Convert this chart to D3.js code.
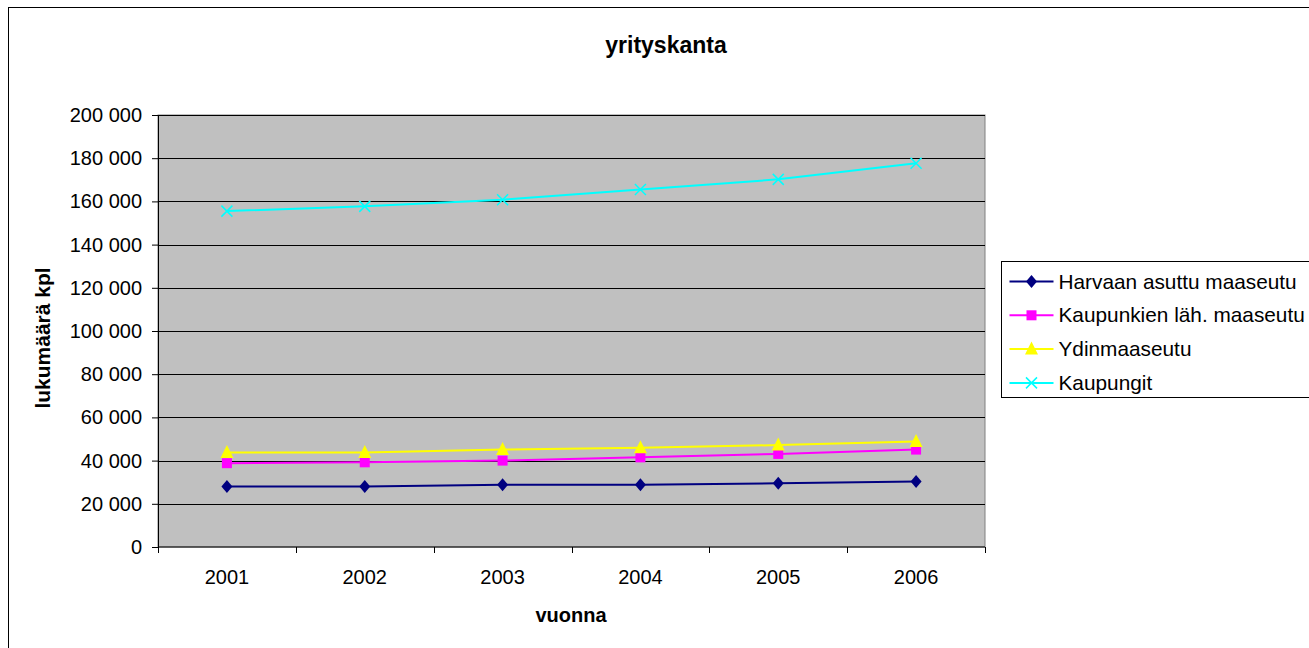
<!DOCTYPE html>
<html>
<head>
<meta charset="utf-8">
<script src="https://cdn.jsdelivr.net/npm/d3@7"></script>
<style>
  body { margin: 0; background: #fff; overflow: hidden; }
  svg { display: block; font-family: "Liberation Sans", Arial, sans-serif; }
</style>
</head>
<body>
<div id="chart"></div>
<script>
/*global d3*/

var years = ["2001", "2002", "2003", "2004", "2005", "2006"];
var harvaan = [28000, 28000, 28800, 28800, 29500, 30300];
var kaupunkienLah = [38800, 39200, 40000, 41500, 43100, 45100];
var ydinmaaseutu = [43700, 43700, 45100, 45900, 47200, 48900];
var kaupungit = [155500, 157700, 160800, 165500, 170200, 177700];
var yTicks = [0, 20000, 40000, 60000, 80000, 100000, 120000, 140000, 160000, 180000, 200000];

var series = [
  {name: "Harvaan asuttu maaseutu", values: harvaan, color: "#000080", marker: "diamond"},
  {name: "Kaupunkien läh. maaseutu", values: kaupunkienLah, color: "#ff00ff", marker: "square"},
  {name: "Ydinmaaseutu", values: ydinmaaseutu, color: "#ffff00", marker: "triangle"},
  {name: "Kaupungit", values: kaupungit, color: "#00ffff", marker: "x"}
];

var width = 1309, height = 648;
var plot = {left: 158, right: 985, top: 115, bottom: 547};

var svg = d3.select("#chart").append("svg")
  .attr("width", width)
  .attr("height", height);

// outer chart border
svg.append("rect")
  .attr("x", 8.5).attr("y", 7.5)
  .attr("width", width).attr("height", height)
  .style("fill", "#fff").style("stroke", "#000").style("stroke-width", 1);

var x = d3.scaleBand().domain(years).range([plot.left, plot.right]);
var y = d3.scaleLinear().domain([0, 200000]).range([plot.bottom, plot.top]);

// plot area
svg.append("rect")
  .attr("x", plot.left).attr("y", plot.top)
  .attr("width", plot.right - plot.left).attr("height", plot.bottom - plot.top)
  .style("fill", "#c0c0c0").style("stroke", "#808080");

// gridlines
svg.append("g").selectAll("line")
  .data(yTicks.filter(function(d){ return d > 0; }))
  .enter().append("line")
  .attr("x1", plot.left).attr("x2", plot.right)
  .attr("y1", function(d){ return Math.round(y(d)) + 0.5; })
  .attr("y2", function(d){ return Math.round(y(d)) + 0.5; })
  .style("stroke", "#000").style("stroke-width", 1);

var fmt = function(d) { return d3.format(",")(d).replace(/,/g, " "); };

// y axis
var yAxis = svg.append("g")
  .attr("transform", "translate(" + plot.left + ",0)")
  .call(d3.axisLeft(y).tickValues(yTicks).tickFormat(fmt).tickSize(6).tickPadding(10));
yAxis.selectAll("text").style("font-size", "20px").style("fill", "#000")
  .style("font-family", "Liberation Sans, Arial, sans-serif");
yAxis.selectAll("line, path").style("stroke", "#000");

// x axis - ticks at category boundaries
var xAxis = svg.append("g")
  .attr("transform", "translate(0," + plot.bottom + ")");
xAxis.append("line")
  .attr("x1", plot.left).attr("x2", plot.right)
  .style("stroke", "#000");
var bounds = years.map(function(d){ return x(d); }).concat([x(years[years.length - 1]) + x.bandwidth()]);
xAxis.selectAll(".tk").data(bounds).enter().append("line")
  .attr("class", "tk")
  .attr("x1", function(d){ return Math.round(d) + 0.5; })
  .attr("x2", function(d){ return Math.round(d) + 0.5; })
  .attr("y1", 0).attr("y2", 6)
  .style("stroke", "#000");
xAxis.selectAll("text").data(years).enter().append("text")
  .attr("x", function(d){ return x(d) + x.bandwidth() / 2; })
  .attr("y", 37)
  .attr("text-anchor", "middle")
  .style("font-size", "20px")
  .text(function(d){ return d; });

// lines
var line = d3.line()
  .x(function(d, i){ return x(years[i]) + x.bandwidth() / 2; })
  .y(function(d){ return y(d); });

function drawMarker(g, type, color) {
  if (type === "diamond") {
    g.append("path").attr("d", "M0,-6.5L5.5,0L0,6.5L-5.5,0Z").style("fill", color);
  } else if (type === "square") {
    g.append("rect").attr("x", -5).attr("y", -5).attr("width", 10).attr("height", 10).style("fill", color);
  } else if (type === "triangle") {
    g.append("path").attr("d", "M0,-7.5L6.5,5.5L-6.5,5.5Z").style("fill", color);
  } else {
    g.append("path").attr("d", "M-5.5,-5.5L5.5,5.5M-5.5,5.5L5.5,-5.5").style("stroke", color).style("stroke-width", 1.5).style("fill", "none");
  }
}

series.forEach(function(s) {
  svg.append("path")
    .datum(s.values)
    .attr("d", line)
    .style("fill", "none")
    .style("stroke", s.color)
    .style("stroke-width", 2);
  s.values.forEach(function(v, i) {
    var g = svg.append("g")
      .attr("transform", "translate(" + (x(years[i]) + x.bandwidth() / 2) + "," + y(v) + ")");
    drawMarker(g, s.marker, s.color);
  });
});

// titles
svg.append("text")
  .attr("x", 666).attr("y", 53)
  .attr("text-anchor", "middle")
  .style("font-size", "23px").style("font-weight", "bold")
  .text("yrityskanta");

svg.append("text")
  .attr("x", 571).attr("y", 622)
  .attr("text-anchor", "middle")
  .style("font-size", "20px").style("font-weight", "bold")
  .text("vuonna");

svg.append("text")
  .attr("transform", "translate(50,338) rotate(-90)")
  .attr("text-anchor", "middle")
  .style("font-size", "21px").style("font-weight", "bold")
  .text("lukumäärä kpl");

// legend
var legend = svg.append("g").attr("transform", "translate(1001.5,261.5)");
legend.append("rect")
  .attr("width", 340).attr("height", 136)
  .style("fill", "#fff").style("stroke", "#000");
series.forEach(function(s, i) {
  var ly = 20 + i * 33.8;
  var g = legend.append("g").attr("transform", "translate(0," + ly + ")");
  g.append("line").attr("x1", 8).attr("x2", 52).attr("y1", 0).attr("y2", 0)
    .style("stroke", s.color).style("stroke-width", 2);
  var m = g.append("g").attr("transform", "translate(30,0)");
  drawMarker(m, s.marker, s.color);
  g.append("text").attr("x", 57).attr("y", 7)
    .style("font-size", "20.8px")
    .text(s.name);
});
</script>
</body>
</html>
